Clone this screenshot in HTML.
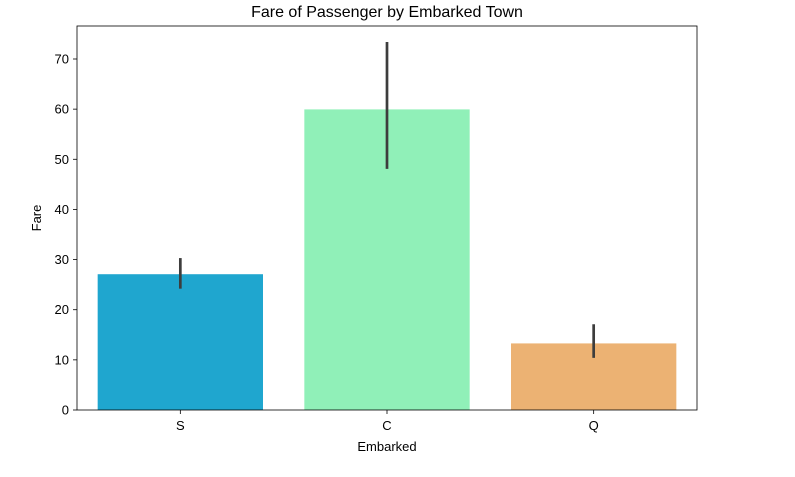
<!DOCTYPE html>
<html><head><meta charset="utf-8"><style>
body{margin:0;background:#fff;}
svg text{font-family:"Liberation Sans","DejaVu Sans",sans-serif;}
</style></head><body>
<svg id="chart" width="795" height="472">
<rect width="795" height="472" fill="#fff"/>
<text x="387" y="17" text-anchor="middle" font-size="16" fill="#000">Fare of Passenger by Embarked Town</text>
<text x="387" y="451" text-anchor="middle" font-size="13" fill="#000">Embarked</text>
<text x="41" y="218" text-anchor="middle" font-size="13" fill="#000" transform="rotate(-90 41 218)">Fare</text>
<g id="bars"></g><g id="axes"></g>
</svg>
<script>
const categories=["S","C","Q"];
const fares=[27.08,59.95,13.28];
const errLow=[24.2,48.1,10.4];
const errHigh=[30.3,73.4,17.1];
const barColors=["#1fa6cf","#90f0b8","#ecb273"];
const yTicks=[0,10,20,30,40,50,60,70];
const NS="http://www.w3.org/2000/svg";
const L=77,R=697,T=26,B=410;
const y=v=>B-v*(B-59)/70;
const band=(R-L)/categories.length;
const x=i=>L+band*i+band/2;
const bw=band*0.8;
function mk(t,a,p){const e=document.createElementNS(NS,t);for(const k in a)e.setAttribute(k,a[k]);p.appendChild(e);return e;}
const gb=document.getElementById('bars'),ga=document.getElementById('axes');
categories.forEach((c,i)=>{
 const r=mk('rect',{x:x(i)-bw/2,y:y(fares[i]),width:bw,height:B-y(fares[i]),fill:barColors[i]},gb);
 
 
 const l=mk('line',{x1:x(i),x2:x(i),y1:y(errLow[i]),y2:y(errHigh[i]),stroke:'#3d3d3d','stroke-width':2.7},gb);
 
 
 mk('line',{x1:x(i),x2:x(i),y1:B,y2:B+4,stroke:'#000','stroke-width':0.8},ga);
 const t=mk('text',{x:x(i),y:B+20,'text-anchor':'middle','font-size':13},ga);t.textContent=c;
 
 
});
yTicks.forEach(v=>{
 mk('line',{x1:L-4,x2:L,y1:y(v),y2:y(v),stroke:'#000','stroke-width':0.8},ga);
 const t=mk('text',{x:L-8,y:y(v)+4.5,'text-anchor':'end','font-size':13},ga);t.textContent=v;
 
 
});
const f=mk('rect',{x:L,y:T,width:R-L,height:B-T,fill:'none',stroke:'#000','stroke-width':0.8},ga);


</script>
</body></html>
